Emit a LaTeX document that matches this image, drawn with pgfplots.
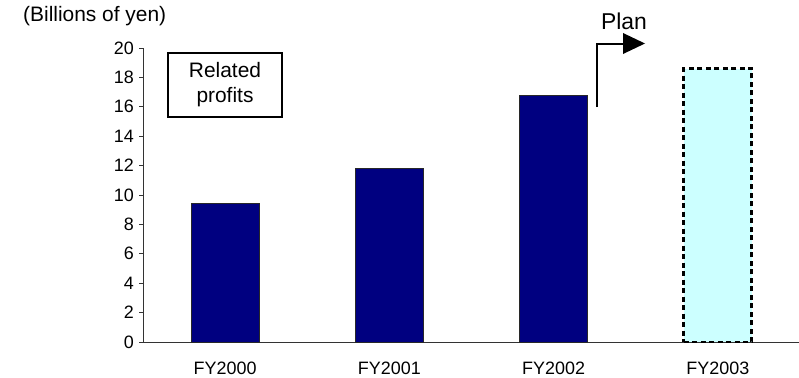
\documentclass[border=0pt]{standalone}
\usepackage{fontspec}
\setmainfont{Liberation Sans}
\usepackage{pgfplots}
\pgfplotsset{compat=1.18}
\definecolor{navybar}{RGB}{0,0,128}
\definecolor{planfill}{RGB}{204,255,255}
\definecolor{baredge}{RGB}{40,40,40}

\begin{document}
\begin{tikzpicture}[x=1bp,y=1bp]
\useasboundingbox (0,0) rectangle (799,377);
\begin{axis}[
  at={(143bp,35bp)}, anchor=south west,
  scale only axis, width=657bp, height=294bp,
  xmin=-0.5, xmax=3.5, ymin=0, ymax=20,
  axis x line*=bottom, axis y line*=left,
  axis line style={line width=0.9bp, black!80},
  ytick={0,2,...,20},
  xtick={0,1,2,3},
  xticklabels={FY2000,FY2001,FY2002,FY2003},
  major x tick style={draw=none},
  major y tick style={line width=0.9bp, black!80},
  tick align=outside, major tick length=4bp,
  /pgf/number format/assume math mode=true,
  yticklabel style={font=\fontsize{18}{20}\selectfont, inner sep=0pt, xshift=-5bp},
  xticklabel style={font=\fontsize{18}{20}\selectfont, inner sep=0pt, yshift=-16bp},
  ybar, bar width=68bp, bar shift=0pt,
  clip=false,
]
% results
\addplot[fill=navybar, draw=baredge, line width=0.8bp]
  coordinates {(0,9.4) (1,11.8) (2,16.8)};
% plan
\addplot[fill=planfill, draw=black, line width=2.8bp, dash pattern=on 5bp off 3.5bp]
  coordinates {(3,18.6)};
\end{axis}

% unit label
\node[anchor=west, inner sep=0pt, font=\fontsize{21}{24}\selectfont] at (23,361) {(Billions of yen)};

% caption box
\draw[line width=1.5bp] (168,260) rectangle (282,324);
\node[align=center, inner sep=0pt, font=\fontsize{21}{25}\selectfont] at (225,292) {Related\\profits};

% plan arrow
\draw[line width=2bp] (597,270) -- (597,333.5) -- (624,333.5);
\fill (623,344) -- (645,333.5) -- (623,323) -- cycle;
\node[inner sep=0pt, font=\fontsize{23}{26}\selectfont] at (624,356) {Plan};
\end{tikzpicture}
\end{document}
